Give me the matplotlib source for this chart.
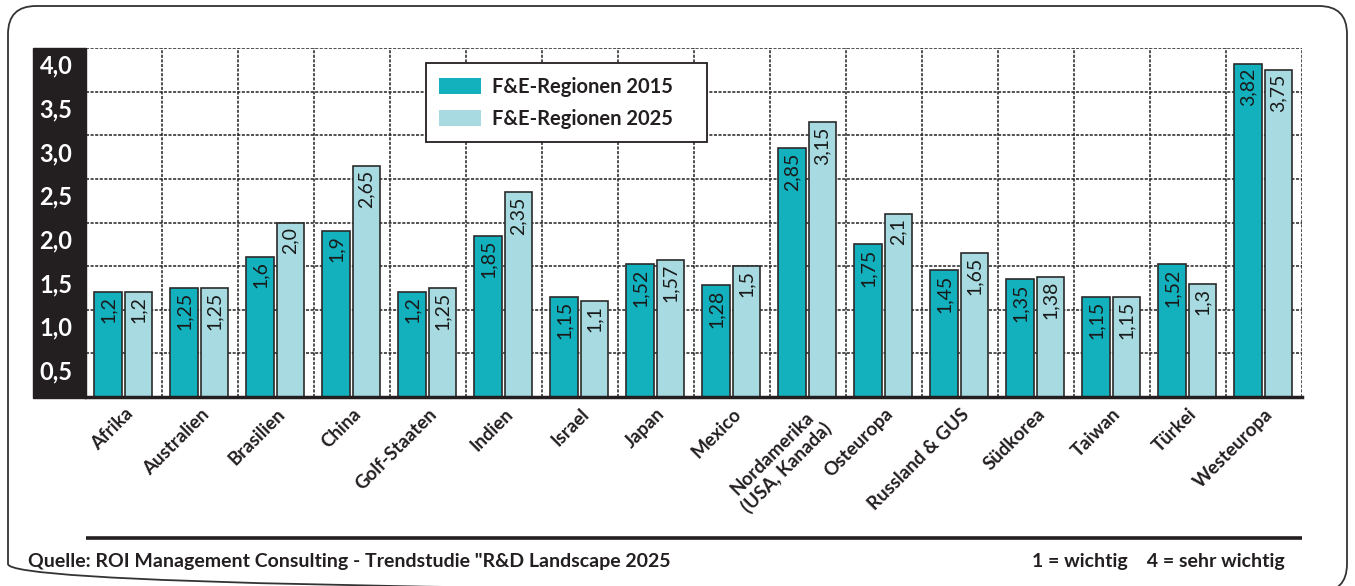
import matplotlib
matplotlib.use("Agg")
import matplotlib.pyplot as plt
from matplotlib.patches import FancyBboxPatch, Rectangle, Patch
import matplotlib.transforms as mtransforms
import numpy as np

# Daten aus der Grafik
regionen = ["Afrika", "Australien", "Brasilien", "China", "Golf-Staaten", "Indien",
            "Israel", "Japan", "Mexico", "Nordamerika\n(USA, Kanada)", "Osteuropa",
            "Russland & GUS", "Südkorea", "Taiwan", "Türkei", "Westeuropa"]
werte_2015 = [1.2, 1.25, 1.6, 1.9, 1.2, 1.85, 1.15, 1.52, 1.28, 2.85, 1.75, 1.45, 1.35, 1.15, 1.52, 3.82]
werte_2025 = [1.2, 1.25, 2.0, 2.65, 1.25, 2.35, 1.1, 1.57, 1.5, 3.15, 2.1, 1.65, 1.38, 1.15, 1.3, 3.75]
y_werte = [0.5, 1.0, 1.5, 2.0, 2.5, 3.0, 3.5, 4.0]
y_labels = ["0,5", "1,0", "1,5", "2,0", "2,5", "3,0", "3,5", "4,0"]
serien = ["F&E-Regionen 2015", "F&E-Regionen 2025"]

plt.rcParams['font.family'] = ['Lato', 'DejaVu Sans']

c15 = '#12b1bd'
c25 = '#a7dbe1'
dunkel = '#231f20'

W, H = 1355, 586
fig = plt.figure(figsize=(W / 100, H / 100), dpi=100)

# Hintergrund in Pixelkoordinaten: Rahmen, schwarze Leiste, Linie, Quelle
bg = fig.add_axes([0, 0, 1, 1])
bg.set_xlim(0, W)
bg.set_ylim(H, 0)
bg.axis('off')
bg.add_patch(FancyBboxPatch((8, 6), 1339, 586, boxstyle="round,pad=0,rounding_size=28",
                            fill=False, ec='#333333', lw=1.3))
bg.add_patch(Rectangle((33, 48), 53, 350, color=dunkel))
bg.plot([86, 1302], [538, 538], color=dunkel, lw=2.6, solid_capstyle='butt')
bg.text(28, 562, 'Quelle: ROI Management Consulting - Trendstudie "R&D Landscape 2025',
        fontsize=14, fontweight='bold', color=dunkel, va='center')
bg.text(1285, 562, '1 = wichtig    4 = sehr wichtig', fontsize=14, fontweight='bold',
        color=dunkel, va='center', ha='right')

ax = fig.add_axes([86 / W, 189 / H, 1216 / W, 349 / H])
ax.patch.set_alpha(0)

x = np.arange(len(regionen))
b1 = ax.bar(x - 0.21, werte_2015, 0.36, color=c15, ec='#2b2b2b', lw=1.2, zorder=3)
b2 = ax.bar(x + 0.19, werte_2025, 0.36, color=c25, ec='#2b2b2b', lw=1.2, zorder=3)

for bars, werte in [(b1, werte_2015), (b2, werte_2025)]:
    for rect, v in zip(bars, werte):
        ax.annotate(str(v).replace('.', ','), (rect.get_x() + rect.get_width() / 2, v),
                    xytext=(0, -3), textcoords='offset points', rotation=90,
                    ha='center', va='top', fontsize=14, color='#1a1a1a', zorder=4)

ax.set_xlim(-0.5, len(regionen) - 0.5)
ax.set_ylim(0, 4)

# gestricheltes Gitter
for y in y_werte:
    ax.axhline(y, color='#222222', lw=1.1, ls=(0, (2, 1)), zorder=1)
for xb in x + 0.5:
    ax.axvline(xb, color='#222222', lw=1.1, ls=(0, (2, 1)), zorder=1)

for s in ['left', 'top', 'right']:
    ax.spines[s].set_visible(False)
ax.spines['bottom'].set_linewidth(2.5)
ax.spines['bottom'].set_color(dunkel)
ax.spines['bottom'].set_zorder(5)

ax.set_yticks([])
trans = mtransforms.blended_transform_factory(ax.transAxes, ax.transData)
for v, lbl in zip(y_werte, y_labels):
    ax.text(-0.0247, v - 0.21, lbl, transform=trans, ha='center', va='center',
            color='white', fontsize=17, fontweight='bold')

ax.set_xticks(x)
ax.set_xticklabels(regionen, rotation=45, ha='right', va='top', rotation_mode='anchor',
                   fontsize=13.5, fontweight='bold', color=dunkel, multialignment='center',
                   linespacing=1.2)
ax.tick_params(axis='x', length=0, pad=6)

handles = [Patch(facecolor=c15, edgecolor='none'), Patch(facecolor=c25, edgecolor='none')]
leg = ax.legend(handles, serien, loc='upper left',
                bbox_to_anchor=(0.2796, 0.9456, 281 / 1216, 0.01), mode='expand',
                frameon=True, fancybox=False, edgecolor=dunkel, framealpha=1,
                prop={'weight': 'bold', 'size': 14.5}, handlelength=2.1, handleheight=0.85,
                labelspacing=0.6, borderpad=0.65, handletextpad=0.55, borderaxespad=0)
leg.get_frame().set_linewidth(1.3)
leg.set_zorder(6)
for t in leg.get_texts():
    t.set_color(dunkel)

fig.savefig('out.png', dpi=100)
